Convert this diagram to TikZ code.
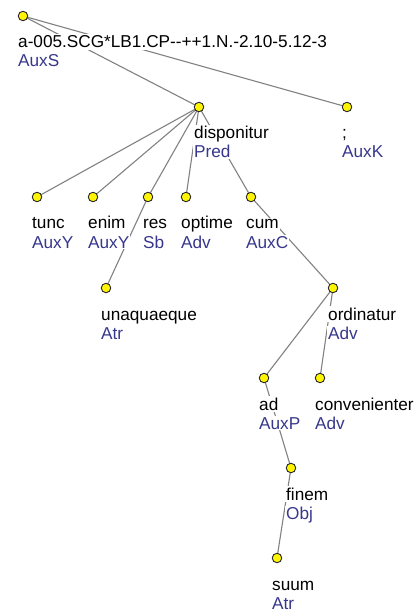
\documentclass[tikz,border=0pt]{standalone}
\usepackage{fontspec}
\setmainfont{Liberation Sans}
\usetikzlibrary{calc,backgrounds}
\definecolor{afuncol}{RGB}{55,55,140}
\definecolor{edgecol}{RGB}{130,130,130}
\definecolor{dotcol}{RGB}{255,245,0}
\begin{document}
\begin{tikzpicture}[x=1pt,y=-1pt,
  treedot/.style={circle,draw=black!85,fill=dotcol,line width=0.9pt,minimum size=9.5pt,inner sep=0pt},
  treeedge/.style={draw=edgecol,line width=1.1pt},
  wordlbl/.style={anchor=base west,fill=white,inner xsep=1pt,inner ysep=2pt,
    font=\fontsize{17.2}{20}\selectfont,text=black},
  funclbl/.style={wordlbl,text=afuncol,inner ysep=1pt}]
\useasboundingbox (0,0) rectangle (417,612);

% tree nodes (dots)
\node[treedot] (root)  at (23,16)  {};
\node[treedot] (disp)  at (199,107) {};
\node[treedot] (semi)  at (347,107) {};
\node[treedot] (tunc)  at (37,197)  {};
\node[treedot] (enim)  at (93,197)  {};
\node[treedot] (res)   at (148,197) {};
\node[treedot] (optime) at (186,197) {};
\node[treedot] (cum)   at (251,197) {};
\node[treedot] (unaq)  at (106,288) {};
\node[treedot] (ordin) at (333,288) {};
\node[treedot] (ad)    at (264,378) {};
\node[treedot] (conv)  at (320,378) {};
\node[treedot] (finem) at (291,468) {};
\node[treedot] (suum)  at (277,558) {};

% labels: word form and analytical function
\newcommand{\treelabel}[3]{%
  \node[wordlbl] (#1-w) at ($(#1.center)+(-6,32)$) {#2};
  \node[funclbl] (#1-f) at ($(#1.center)+(-6,51)$) {#3};}
\treelabel{root}{a-005.SCG*LB1.CP-{}-++1.N.-2.10-5.12-3}{AuxS}
\treelabel{disp}{disponitur}{Pred}
\treelabel{semi}{;}{AuxK}
\treelabel{tunc}{tunc}{AuxY}
\treelabel{enim}{enim}{AuxY}
\treelabel{res}{res}{Sb}
\treelabel{optime}{optime}{Adv}
\treelabel{cum}{cum}{AuxC}
\treelabel{unaq}{unaquaeque}{Atr}
\treelabel{ordin}{ordinatur}{Adv}
\treelabel{ad}{ad}{AuxP}
\treelabel{conv}{convenienter}{Adv}
\treelabel{finem}{finem}{Obj}
\treelabel{suum}{suum}{Atr}

% white page and the edges, underneath the labels
\begin{pgfonlayer}{background}
\fill[white] (0,0) rectangle (417,612);
\foreach \a/\b in {root/disp,root/semi,disp/tunc,disp/enim,disp/res,disp/optime,
  disp/cum,res/unaq,cum/ordin,ordin/ad,ordin/conv,ad/finem,finem/suum}
  \draw[treeedge] (\a.center) -- (\b.center);
\end{pgfonlayer}
\end{tikzpicture}
\end{document}
